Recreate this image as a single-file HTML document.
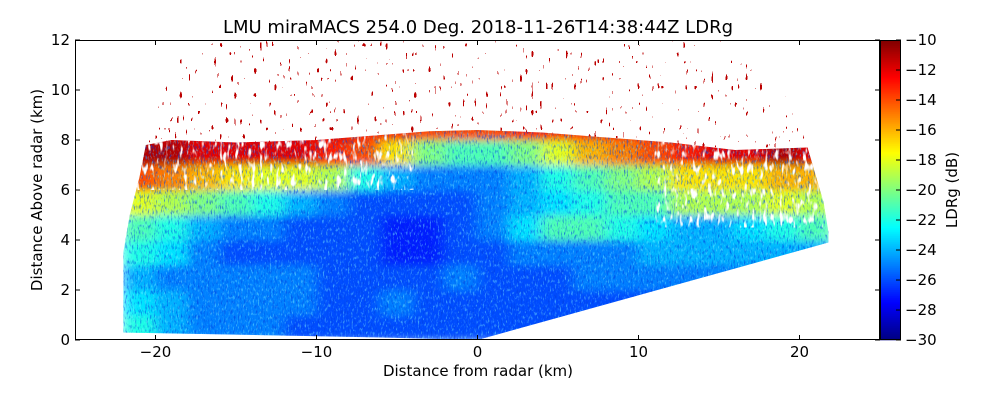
<!DOCTYPE html>
<html><head><meta charset="utf-8">
<style>
html,body{margin:0;padding:0;background:#fff;}
svg{display:block;font-family:"DejaVu Sans","Liberation Sans",sans-serif;}
</style></head>
<body>
<svg id="chart" width="1000" height="400" viewBox="0 0 1000 400">
<defs>
  <clipPath id="fanClip"><polygon id="fanPoly"/></clipPath>
  <clipPath id="speckClip"><polygon id="speckPoly"/></clipPath>
  <clipPath id="plotClip"><rect x="75" y="40" width="805" height="300"/></clipPath>
  <filter id="smooth" x="-5%" y="-5%" width="110%" height="110%">
    <feGaussianBlur stdDeviation="7 4"/>
  </filter>
  <filter id="noise" x="0" y="0" width="100%" height="100%">
    <feTurbulence type="fractalNoise" baseFrequency="0.7 0.2" numOctaves="2" seed="3"/>
    <feColorMatrix type="matrix" values="0 0 0 0 0  0 0 0 0 0.05  0 0 0 0 0.75  4 0 0 0 -2.1"/>
  </filter>
  <filter id="noise2" x="0" y="0" width="100%" height="100%">
    <feTurbulence type="fractalNoise" baseFrequency="0.6 0.25" numOctaves="2" seed="9"/>
    <feColorMatrix type="matrix" values="0 0 0 0 0.2  0 0 0 0 0.9  0 0 0 0 1  4 0 0 0 -2.2"/>
  </filter>
  <filter id="gaps" x="0" y="0" width="100%" height="100%">
    <feTurbulence type="fractalNoise" baseFrequency="0.25 0.08" numOctaves="2" seed="11"/>
    <feColorMatrix type="matrix" values="0 0 0 0 1  0 0 0 0 1  0 0 0 0 1  6 0 0 0 -3.4"/>
  </filter>
  <filter id="speck" x="0" y="0" width="100%" height="100%">
    <feTurbulence type="fractalNoise" baseFrequency="0.35 0.12" numOctaves="1" seed="5"/>
    <feColorMatrix type="matrix" values="0 0 0 0 0.5  0 0 0 0 0  0 0 0 0 0  0 0 0 9 -5.9"/>
    <feComponentTransfer><feFuncA type="discrete" tableValues="0 1"/></feComponentTransfer>
  </filter>
</defs>
<text x="478" y="33" font-size="18" text-anchor="middle">LMU miraMACS 254.0 Deg. 2018-11-26T14:38:44Z  LDRg</text>
<g id="plot" clip-path="url(#plotClip)">
  <g id="speckles" clip-path="url(#speckClip)">
    <rect x="75" y="40" width="805" height="300" filter="url(#speck)"/>
  </g>
  <g clip-path="url(#fanClip)">
    <g id="heat" filter="url(#smooth)"></g>
    <rect x="75" y="40" width="805" height="300" filter="url(#noise)" opacity="0.6"/>
    <rect x="75" y="40" width="805" height="300" filter="url(#noise2)" opacity="0.5"/>
    <g id="gapLayer"></g>
  </g>
</g>
<rect x="75.5" y="40.5" width="804" height="299" fill="none" stroke="#000" stroke-width="1"/>
<g id="xaxis"></g>
<g id="yaxis"></g>
<text x="478" y="376" font-size="15" text-anchor="middle">Distance from radar (km)</text>
<text transform="translate(42,190) rotate(-90)" font-size="15" text-anchor="middle">Distance Above radar  (km)</text>
<g id="cbar"></g>
<text transform="translate(957,190) rotate(-90)" font-size="15" text-anchor="middle">LDRg (dB)</text>
</svg>
<script>
// ---- data ----
const xCenters = [-21,-19,-17,-15,-13,-11,-9,-7,-5,-3,-1,1,3,5,7,9,11,13,15,17,19,21];
const rowBottoms = [0,1,2,3,4,5,6,7,8];
const ldrRow0 = [-22,-24,-25,-25,-25,-26,-26,-26,-26,-26,-26,-26,-26,-26,-26,-26,-26,-26,-26,-26,-26,-26];
const ldrRow1 = [-23,-24,-25,-25,-25,-25,-26,-26,-25,-26,-26,-26,-26,-26,-26,-26,-26,-25,-25,-25,-25,-25];
const ldrRow2 = [-24,-25,-25,-25,-25,-25,-26,-26,-26,-26,-25,-26,-26,-26,-25,-25,-25,-25,-25,-25,-25,-25];
const ldrRow3 = [-22,-23,-25,-26,-26,-26,-26,-26,-27,-27,-26,-26,-25,-25,-25,-25,-24,-24,-24,-24,-24,-24];
const ldrRow4 = [-21,-22,-24,-25,-25,-26,-26,-26,-27,-27,-26,-25,-23,-21,-21,-22,-23,-24,-24,-23,-22,-21];
const ldrRow5 = [-18,-19,-20,-21,-22,-24,-25,-26,-26,-26,-26,-25,-24,-23,-22,-21,-21,-19,-19,-19,-18,-19];
const ldrRow6 = [-14,-15,-16,-17,-18,-18,-19,-22,-24,-25,-25,-25,-24,-22,-21,-20,-19,-17,-17,-17,-16,-16];
const ldrRow7 = [-11,-11,-12,-12,-12,-12,-13,-14,-17,-20,-21,-21,-20,-18,-16,-15,-14,-13,-12,-12,-11,-12];
const ldrRow8 = [-12,-12,-12,-12,-12,-12,-12,-13,-13,-14,-14,-14,-13,-13,-13,-13,-13,-12,-12,-12,-12,-12];
const ldrRows = [ldrRow0,ldrRow1,ldrRow2,ldrRow3,ldrRow4,ldrRow5,ldrRow6,ldrRow7,ldrRow8];
const fanX = [-22,-22,-21.6,-21,-20.6,-19,-15,-10,-6,-3,0,4,8,12,16,20.5,21.5,21.8,21.8,0,-6];
const fanY = [0.3,3.5,5,6.5,7.8,8.0,7.9,8.0,8.2,8.35,8.4,8.3,8.1,7.9,7.6,7.7,5.5,4.3,3.9,0,0.1];
const speckX = [-20.6,-19.8,-18.5,-16,-10,0,10,15,17.5,19.5,20.5];
const speckY = [7.8,9.5,11.2,12,12,12,12,12,10.8,9.5,7.7];
// gap regions [x0, x1, y0, y1] in km
const gapX0 = [-22, 11];
const gapX1 = [-4, 22];
const gapY0 = [6.0, 4.5];
const gapY1 = [8.5, 8.5];
const xTicks = [-20,-10,0,10,20];
const yTicks = [0,2,4,6,8,10,12];
const cbTicks = [-10,-12,-14,-16,-18,-20,-22,-24,-26,-28,-30];

// ---- scales ----
const X0=75, X1=880, Y0=340, Y1=40;
const xs = v => X0 + (v+25)/50*(X1-X0);
const ys = v => Y0 - v/12*(Y0-Y1);
const NS='http://www.w3.org/2000/svg';
function jet(v){
  let t=Math.max(0,Math.min(1,(v+30)/20));
  const c=x=>Math.round(255*Math.max(0,Math.min(1,x)));
  const r=c(1.5-Math.abs(4*t-3)), g=c(1.5-Math.abs(4*t-2)), b=c(1.5-Math.abs(4*t-1));
  return `rgb(${r},${g},${b})`;
}
function mk(tag,attrs,parent){const e=document.createElementNS(NS,tag);for(const k in attrs)e.setAttribute(k,attrs[k]);parent.appendChild(e);return e;}

document.getElementById('fanPoly').setAttribute('points',fanX.map((x,i)=>xs(x)+','+ys(fanY[i])).join(' '));
document.getElementById('speckPoly').setAttribute('points',speckX.map((x,i)=>xs(x)+','+ys(speckY[i])).join(' '));
document.querySelector('#speckles rect').setAttribute('fill','#8b0000');

const gl=document.getElementById('gapLayer');
gapX0.forEach((x0,i)=>{
  const r=mk('rect',{x:xs(x0),y:ys(gapY1[i]),width:xs(gapX1[i])-xs(x0),height:ys(gapY0[i])-ys(gapY1[i]),filter:'url(#gaps)'},gl);
  
  
});

const heat=document.getElementById('heat');
rowBottoms.forEach((yb,ri)=>{
  ldrRows[ri].forEach((v,ci)=>{
    const xc=xCenters[ci];
    const r=mk('rect',{x:xs(xc-1)-0.5,y:ys(yb+1)-0.5,width:xs(xc+1)-xs(xc-1)+1,height:ys(yb)-ys(yb+1)+1,fill:jet(v)},heat);
    
    
  });
});

const xa=document.getElementById('xaxis');
xTicks.forEach(t=>{
  const x=xs(t);
  mk('line',{x1:x,x2:x,y1:340,y2:335,stroke:'#000'},xa);
  mk('line',{x1:x,x2:x,y1:40,y2:45,stroke:'#000'},xa);
  const tx=mk('text',{x:x,y:357,'font-size':15,'text-anchor':'middle'},xa);
  tx.textContent=(t<0?'\u2212'+(-t):t);
  
  
});
const ya=document.getElementById('yaxis');
yTicks.forEach(t=>{
  const y=ys(t);
  mk('line',{x1:75,x2:80,y1:y,y2:y,stroke:'#000'},ya);
  mk('line',{x1:880,x2:875,y1:y,y2:y,stroke:'#000'},ya);
  const tx=mk('text',{x:70,y:y+5,'font-size':15,'text-anchor':'end'},ya);
  tx.textContent=t;
  
  
});
const cb=document.getElementById('cbar');
for(let i=0;i<150;i++){
  const v=-30+20*(i+0.5)/150;
  const y0=340-(i+1)*2;
  mk('rect',{x:880,y:y0,width:21,height:2.3,fill:jet(v)},cb);
}
mk('rect',{x:880.5,y:40.5,width:20,height:299,fill:'none',stroke:'#000'},cb);
cbTicks.forEach(t=>{
  const y=340-(t+30)/20*300;
  mk('line',{x1:896,x2:901,y1:y,y2:y,stroke:'#000'},cb);
  const tx=mk('text',{x:905,y:y+5,'font-size':15},cb);
  tx.textContent='\u2212'+(-t);
  
  
});
</script>
</body></html>
